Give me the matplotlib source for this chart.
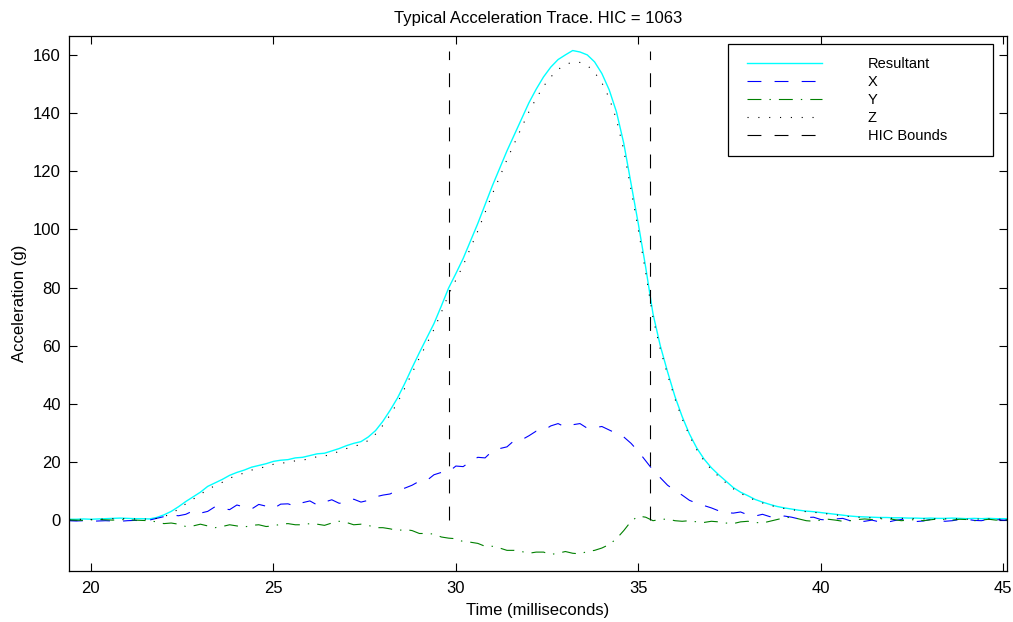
import numpy as np
import matplotlib
matplotlib.use("Agg")
import matplotlib.pyplot as plt
from matplotlib.lines import Line2D
from matplotlib.legend_handler import HandlerLine2D

plt.rcParams['font.family'] = ['Liberation Sans', 'DejaVu Sans']
plt.rcParams['lines.scale_dashes'] = False

# ---------------- data ----------------
t_start, t_step, n_pts = 19.4, 0.2, 130
time_ms = np.round(t_start + t_step * np.arange(n_pts), 2)

resultant = [
    0.3, 0.3, 0.4, 0.3, 0.4, 0.5, 0.6, 0.7, 0.6, 0.5,
    0.5, 0.4, 0.9, 1.8, 3.0, 4.6, 6.4, 8.0, 9.6, 11.6,
    12.8, 14.0, 15.4, 16.4, 17.2, 18.2, 18.8, 19.4, 20.2, 20.6,
    20.8, 21.4, 21.6, 22.2, 22.8, 23.0, 23.8, 24.6, 25.6, 26.4,
    27.0, 28.6, 30.8, 34.0, 37.8, 42.0, 47.0, 52.4, 57.6, 62.6,
    67.6, 73.6, 79.8, 84.8, 90.0, 96.0, 102.0, 108.5, 115.0, 121.0,
    127.0, 132.5, 138.0, 143.5, 148.2, 152.4, 155.8, 158.4, 160.0, 161.5,
    161.0, 160.0, 157.6, 153.6, 148.0, 140.4, 129.6, 115.6, 101.8, 87.0,
    71.0, 60.0, 51.0, 42.6, 35.6, 29.6, 24.8, 21.0, 18.0, 15.6,
    13.4, 11.2, 9.6, 8.4, 7.1, 6.2, 5.4, 4.7, 4.2, 3.8,
    3.4, 3.1, 2.9, 2.6, 2.3, 2.0, 1.7, 1.4, 1.2, 1.1,
    1.0, 0.9, 0.9, 0.8, 0.8, 0.7, 0.7, 0.6, 0.7, 0.6,
    0.6, 0.7, 0.6, 0.5, 0.6, 0.5, 0.6, 0.5, 0.5, 0.5,
]

accel_x = [
    -0.2, -0.3, -0.2, -0.4, -0.3, -0.2, -0.3, -0.4, -0.2, -0.1,
    -0.2, 0.0, 0.6, 1.2, 1.8, 1.5, 2.0, 3.2, 2.4, 3.0,
    4.6, 4.0, 3.6, 5.2, 4.5, 3.8, 5.4, 4.8, 4.0, 5.5,
    5.6, 4.8, 6.0, 6.6, 5.2, 6.2, 7.0, 5.8, 6.0, 7.2,
    6.2, 6.8, 8.0, 8.6, 9.0, 10.4, 11.0, 12.0, 13.4, 13.6,
    15.6, 16.4, 16.6, 18.6, 18.4, 20.2, 21.6, 21.4, 23.8, 24.6,
    25.2, 27.4, 27.6, 29.0, 30.6, 30.8, 32.4, 33.2, 32.0, 32.8,
    33.2, 31.6, 31.8, 32.2, 31.0, 29.8, 28.6, 26.4, 23.6, 20.4,
    17.2, 14.6, 12.0, 10.2, 8.6, 6.8, 5.8, 5.0, 4.2, 3.2,
    2.6, 2.4, 2.8, 1.8, 1.4, 2.0, 1.2, 0.8, 1.4, 1.0,
    0.4, 0.9, 1.0, 0.2, 0.0, 0.4, 0.6, -0.2, -0.6, -0.4,
    0.0, -0.6, -0.8, -0.2, 0.2, -0.2, -0.5, -0.3, 0.2, 0.0,
    -0.4, -0.2, 0.2, 0.3, -0.1, -0.2, 0.3, 0.2, 0.0, 0.1,
]

accel_y = [
    0.1, 0.0, -0.1, 0.1, 0.2, 0.1, 0.0, 0.2, 0.1, 0.0,
    -0.1, -0.2, -0.6, -1.2, -1.0, -1.4, -2.2, -2.0, -1.4, -2.0,
    -2.6, -2.2, -1.6, -2.0, -2.4, -1.8, -1.6, -2.2, -2.0, -1.4,
    -1.2, -1.6, -1.6, -1.2, -1.4, -1.8, -1.0, -0.4, -0.8, -1.6,
    -1.4, -1.8, -2.6, -2.6, -3.0, -3.6, -3.2, -3.6, -4.6, -4.6,
    -4.8, -5.8, -6.2, -6.4, -7.4, -7.6, -8.0, -9.0, -9.0, -9.6,
    -10.4, -10.4, -10.8, -11.4, -11.0, -11.0, -11.8, -11.4, -10.8, -11.4,
    -11.6, -10.8, -10.4, -9.6, -8.4, -6.4, -3.6, -0.4, 1.4, 1.0,
    -0.2, 0.2, 0.4, -0.2, -0.4, -0.2, -0.6, -0.8, -0.4, -0.6,
    -1.0, -1.2, -0.6, -0.4, -0.8, -1.0, -0.4, 0.2, 0.8, 1.0,
    0.4, -0.2, -0.4, 0.0, 0.3, 0.0, -0.4, -0.2, 0.2, 0.4,
    0.2, 0.4, 0.6, 0.2, -0.2, 0.0, 0.2, -0.2, 0.1, 0.4,
    0.2, 0.0, 0.3, 0.2, -0.2, 0.0, 0.3, 0.0, 0.2, 0.0,
]

accel_z = [
    0.2, 0.2, 0.3, 0.2, 0.3, 0.4, 0.5, 0.5, 0.5, 0.4,
    0.4, 0.3, 0.6, 1.2, 2.2, 3.8, 5.6, 7.2, 8.8, 10.6,
    11.8, 13.0, 14.4, 15.4, 16.2, 17.2, 17.8, 18.4, 19.2, 19.6,
    19.8, 20.4, 20.6, 21.2, 21.8, 22.0, 22.8, 23.6, 24.6, 25.4,
    26.0, 27.4, 29.6, 32.6, 36.2, 40.4, 45.4, 50.6, 55.8, 60.6,
    65.6, 71.4, 77.6, 82.6, 87.6, 93.6, 99.4, 105.8, 112.2, 118.0,
    124.0, 129.5, 135.0, 140.4, 145.0, 149.2, 152.4, 155.0, 156.6, 157.6,
    157.4, 156.4, 154.0, 150.4, 145.2, 137.8, 127.2, 113.4, 99.8, 85.2,
    69.6, 58.8, 50.0, 41.8, 34.8, 29.0, 24.2, 20.4, 17.4, 15.0,
    12.8, 10.8, 9.2, 8.0, 6.8, 5.9, 5.1, 4.5, 4.0, 3.6,
    3.2, 2.9, 2.7, 2.4, 2.1, 1.8, 1.5, 1.2, 1.0, 0.9,
    0.8, 0.7, 0.7, 0.6, 0.6, 0.5, 0.5, 0.4, 0.5, 0.4,
    0.4, 0.5, 0.4, 0.3, 0.4, 0.3, 0.4, 0.3, 0.3, 0.3,
]

hic_bounds = [29.8, 35.33]
hic_value = 1063

x_ticks = [20, 25, 30, 35, 40, 45]
y_ticks = [0, 20, 40, 60, 80, 100, 120, 140, 160]

# ---------------- figure ----------------
W, H = 1013, 622
fig = plt.figure(figsize=(W / 100, H / 100), dpi=100)
ax = fig.add_axes([69 / W, 51 / H, (1007 - 69) / W, (571 - 36) / H])

lw = 0.8
dash = (0, (10, 9.5))
dashdot = (0, (10, 5.8, 1.0, 5.8))
dotted = (0, (0.8, 7))

ax.plot(time_ms, resultant, color='cyan', lw=1.0, label='Resultant')
ax.plot(time_ms, accel_x, color='blue', lw=lw, linestyle=dash, label='X')
ax.plot(time_ms, accel_y, color='#008000', lw=lw, linestyle=dashdot, label='Y')
ax.plot(time_ms, accel_z, color='black', lw=lw, linestyle=dotted, label='Z')
top = max(resultant)
for i, b in enumerate(hic_bounds):
    ax.plot([b, b], [0, top], color='black', lw=lw, linestyle=dash,
            label='HIC Bounds' if i == 0 else '_nolegend_')

ax.set_xlim(19.4, 45.1)
ax.set_ylim(-17.5, 166.5)
ax.set_xticks(x_ticks)
ax.set_yticks(y_ticks)
ax.tick_params(direction='in', length=6, width=0.8, top=True, right=True,
               labelsize=12, colors='black')
ax.tick_params(axis='x', pad=7)
ax.tick_params(axis='y', pad=6)
for s in ax.spines.values():
    s.set_linewidth(0.9)
    s.set_color('black')

ax.set_xlabel('Time (milliseconds)', fontsize=12, labelpad=5.5)
ax.set_ylabel('Acceleration (g)', fontsize=12, labelpad=4)
ax.set_title(f'Typical Acceleration Trace. HIC = {hic_value}', fontsize=12, pad=9)

fs = 10.5
fpx = fs * 100 / 72
leg = ax.legend(loc='upper left',
                bbox_to_anchor=(728 / W, 1 - 157 / H, 265 / W, 113 / H),
                bbox_transform=fig.transFigure, mode='expand',
                borderaxespad=0, borderpad=0.89, fontsize=fs,
                handlelength=(75 + 6) / fpx, handletextpad=46 / fpx,
                labelspacing=0.28, fancybox=False, framealpha=1,
                edgecolor='black',
                handler_map={Line2D: HandlerLine2D(xpad=6 / fpx)})
leg.get_frame().set_linewidth(0.9)

fig.savefig('out.png', dpi=100)
